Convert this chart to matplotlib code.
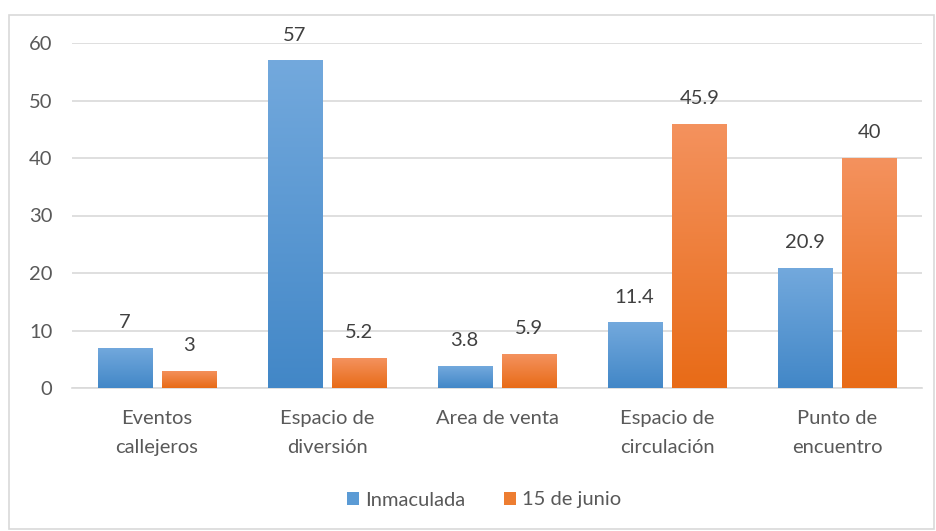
import numpy as np
import matplotlib.pyplot as plt
from matplotlib.colors import LinearSegmentedColormap
from matplotlib.patches import Rectangle

categorias = ["Eventos\ncallejeros", "Espacio de\ndiversión", "Area de venta",
              "Espacio de\ncirculación", "Punto de\nencuentro"]
inmaculada = [7, 57, 3.8, 11.4, 20.9]
junio15 = [3, 5.2, 5.9, 45.9, 40]
series = ["Inmaculada", "15 de junio"]

plt.rcParams['font.family'] = ['Lato', 'DejaVu Sans']
fs = 14.5

fig = plt.figure(figsize=(9.36, 5.31), dpi=100)
ax = fig.add_axes([72 / 936, 1 - 388 / 531, 850 / 936, 345 / 531])

# borde del gráfico
fig.patches.append(Rectangle((9 / 936, 2 / 531), 925 / 936, 514 / 531,
                             transform=fig.transFigure, fill=False,
                             edgecolor="#D9D9D9", linewidth=1.2))

x = np.arange(len(categorias))
w = 0.32
azul = LinearSegmentedColormap.from_list("azul", ["#4287C7", "#73A9DD"])
naranja = LinearSegmentedColormap.from_list("naranja", ["#E86B17", "#F4925E"])
grad = np.linspace(0, 1, 256).reshape(-1, 1)

b1 = ax.bar(x - 0.19, inmaculada, w, color="#5B9BD5", zorder=2, label=series[0])
b2 = ax.bar(x + 0.19, junio15, w, color="#ED7D31", zorder=2, label=series[1])

for barras, cmap in [(b1, azul), (b2, naranja)]:
    for b in barras:
        x0, h = b.get_x(), b.get_height()
        im = ax.imshow(grad, cmap=cmap, aspect="auto", origin="lower",
                       extent=[x0, x0 + b.get_width(), 0, h], zorder=3)
        im.set_clip_path(b)
        ax.text(x0 + b.get_width() / 2, h + 2.9, f"{h:g}", ha="center",
                va="bottom", fontsize=fs, color="#404040")

ax.set_xlim(-0.5, 4.5)
ax.set_ylim(0, 60)
ax.set_yticks(range(0, 61, 10))
ax.set_xticks(x)
ax.set_xticklabels(categorias, fontsize=fs, color="#595959", linespacing=1.85)
ax.tick_params(axis="y", labelsize=fs, labelcolor="#595959", length=0, pad=14)
ax.tick_params(axis="x", length=0, pad=16)
ax.grid(axis="y", color="#D9D9D9", linewidth=1.2, zorder=0)
for s in ["top", "right", "left"]:
    ax.spines[s].set_visible(False)
ax.spines["bottom"].set_color("#D9D9D9")
ax.spines["bottom"].set_linewidth(1.2)

leg = fig.legend(handles=[b1, b2], labels=series, loc="center",
                 bbox_to_anchor=(484 / 936, 1 - 500 / 531), ncol=2, frameon=False,
                 fontsize=fs, handlelength=0.6, handleheight=0.6,
                 handletextpad=0.3, columnspacing=1.9)
for t in leg.get_texts():
    t.set_color("#595959")

fig.savefig("out.png", dpi=100)
